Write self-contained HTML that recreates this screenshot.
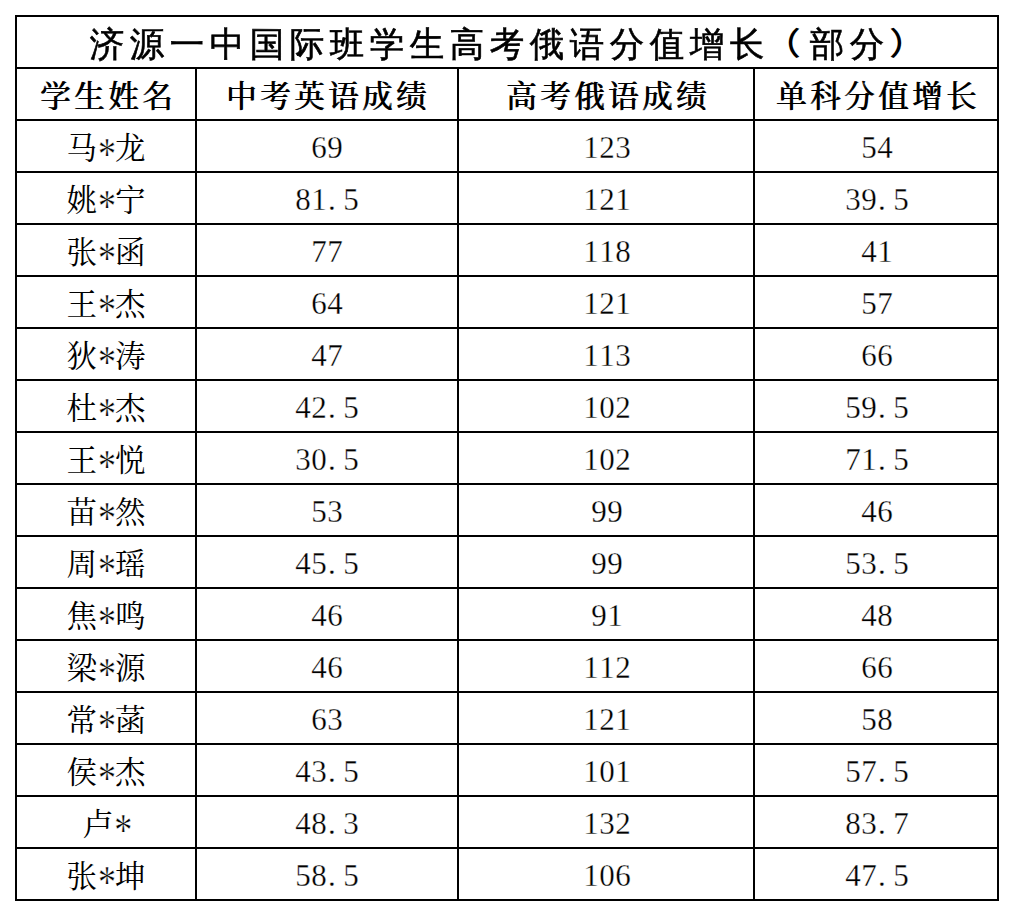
<!DOCTYPE html>
<html lang="zh-CN"><head><meta charset="utf-8"><title>济源一中国际班学生高考俄语分值增长（部分）</title>
<style>
html,body{margin:0;padding:0;background:#fff;}
body{width:1014px;height:916px;position:relative;overflow:hidden;}
.h{position:absolute;left:15px;width:984px;height:2px;background:#000;}
.v{position:absolute;top:67px;height:834px;width:2px;background:#000;}
.c{position:absolute;height:50px;display:flex;justify-content:center;align-items:flex-start;white-space:nowrap;color:#000;}
.c span{display:block;}
.d{font-family:"Liberation Serif","Noto Serif CJK SC",serif;font-size:31px;line-height:50px;}
.d i{font-style:normal;display:inline-block;width:16px;text-align:center;}
.d i.dot{text-align:left;padding-left:1px;box-sizing:border-box;}
.d{-webkit-text-stroke:0.3px #fff;}
.n{font-family:"Liberation Serif","Noto Serif CJK SC",serif;font-size:30.5px;line-height:50px;}
.n b{font-weight:400;display:inline-block;}
.n b.cj{width:32.5px;text-align:center;}
.n b.ast{-webkit-text-stroke:0.35px #fff;width:16px;text-align:center;font-family:"Liberation Serif",serif;font-size:36px;transform:translate(0px,7px) scale(1,1.3);}
.hd{font-family:"Liberation Serif","Noto Serif CJK SC",serif;font-size:30.5px;line-height:50px;font-weight:400;letter-spacing:3.5px;text-shadow:1px 0 0 #000;}
.hd span{margin-right:-3.5px;}
.t em.p{font-style:normal;display:inline-block;line-height:0;font-family:"Liberation Sans","Noto Sans CJK SC",sans-serif;font-weight:500;-webkit-text-stroke:0;position:relative;transform:translate(0px,0px) scale(1.1,0.92);}
.t span{position:relative;left:0px;margin-right:-5.5px;}
.t{font-family:"Liberation Sans","WenQuanYi Zen Hei",sans-serif;font-size:34.5px;line-height:50px;font-weight:400;letter-spacing:5.5px;-webkit-text-stroke:0.6px #000;}
</style></head><body>

<div class="h" style="top:15px"></div>
<div class="h" style="top:67px"></div>
<div class="h" style="top:119px"></div>
<div class="h" style="top:171px"></div>
<div class="h" style="top:223px"></div>
<div class="h" style="top:275px"></div>
<div class="h" style="top:327px"></div>
<div class="h" style="top:379px"></div>
<div class="h" style="top:431px"></div>
<div class="h" style="top:483px"></div>
<div class="h" style="top:535px"></div>
<div class="h" style="top:587px"></div>
<div class="h" style="top:639px"></div>
<div class="h" style="top:691px"></div>
<div class="h" style="top:743px"></div>
<div class="h" style="top:795px"></div>
<div class="h" style="top:847px"></div>
<div class="h" style="top:899px"></div>
<div class="v" style="left:15px;top:15px;height:886px"></div>
<div class="v" style="left:997px;top:15px;height:886px"></div>
<div class="v" style="left:195px"></div>
<div class="v" style="left:457px"></div>
<div class="v" style="left:753px"></div>
<div class="c t" style="left:17px;width:980px;top:19px"><span>济源一中国际班学生高考俄语分值增长<em class="p" style="left:-4.5px">（</em>部分<em class="p" style="left:1.5px">）</em></span></div>
<div class="c hd" style="left:17px;width:178px;top:72px"><span>学生姓名</span></div>
<div class="c hd" style="left:196px;width:260px;top:72px"><span>中考英语成绩</span></div>
<div class="c hd" style="left:459px;width:294px;top:72px"><span>高考俄语成绩</span></div>
<div class="c hd" style="left:755px;width:242px;top:72px"><span>单科分值增长</span></div>
<div class="c n" style="left:17px;width:178px;top:122px"><span><b class="cj">马</b><b class="ast">*</b><b class="cj">龙</b></span></div>
<div class="c d" style="left:197px;width:260px;top:123px"><span><i>6</i><i>9</i></span></div>
<div class="c d" style="left:460px;width:294px;top:123px"><span><i>1</i><i>2</i><i>3</i></span></div>
<div class="c d" style="left:756px;width:242px;top:123px"><span><i>5</i><i>4</i></span></div>
<div class="c n" style="left:17px;width:178px;top:174px"><span><b class="cj">姚</b><b class="ast">*</b><b class="cj">宁</b></span></div>
<div class="c d" style="left:197px;width:260px;top:175px"><span><i>8</i><i>1</i><i class="dot">.</i><i>5</i></span></div>
<div class="c d" style="left:460px;width:294px;top:175px"><span><i>1</i><i>2</i><i>1</i></span></div>
<div class="c d" style="left:756px;width:242px;top:175px"><span><i>3</i><i>9</i><i class="dot">.</i><i>5</i></span></div>
<div class="c n" style="left:17px;width:178px;top:226px"><span><b class="cj">张</b><b class="ast">*</b><b class="cj">函</b></span></div>
<div class="c d" style="left:197px;width:260px;top:227px"><span><i>7</i><i>7</i></span></div>
<div class="c d" style="left:460px;width:294px;top:227px"><span><i>1</i><i>1</i><i>8</i></span></div>
<div class="c d" style="left:756px;width:242px;top:227px"><span><i>4</i><i>1</i></span></div>
<div class="c n" style="left:17px;width:178px;top:278px"><span><b class="cj">王</b><b class="ast">*</b><b class="cj">杰</b></span></div>
<div class="c d" style="left:197px;width:260px;top:279px"><span><i>6</i><i>4</i></span></div>
<div class="c d" style="left:460px;width:294px;top:279px"><span><i>1</i><i>2</i><i>1</i></span></div>
<div class="c d" style="left:756px;width:242px;top:279px"><span><i>5</i><i>7</i></span></div>
<div class="c n" style="left:17px;width:178px;top:330px"><span><b class="cj">狄</b><b class="ast">*</b><b class="cj">涛</b></span></div>
<div class="c d" style="left:197px;width:260px;top:331px"><span><i>4</i><i>7</i></span></div>
<div class="c d" style="left:460px;width:294px;top:331px"><span><i>1</i><i>1</i><i>3</i></span></div>
<div class="c d" style="left:756px;width:242px;top:331px"><span><i>6</i><i>6</i></span></div>
<div class="c n" style="left:17px;width:178px;top:382px"><span><b class="cj">杜</b><b class="ast">*</b><b class="cj">杰</b></span></div>
<div class="c d" style="left:197px;width:260px;top:383px"><span><i>4</i><i>2</i><i class="dot">.</i><i>5</i></span></div>
<div class="c d" style="left:460px;width:294px;top:383px"><span><i>1</i><i>0</i><i>2</i></span></div>
<div class="c d" style="left:756px;width:242px;top:383px"><span><i>5</i><i>9</i><i class="dot">.</i><i>5</i></span></div>
<div class="c n" style="left:17px;width:178px;top:434px"><span><b class="cj">王</b><b class="ast">*</b><b class="cj">悦</b></span></div>
<div class="c d" style="left:197px;width:260px;top:435px"><span><i>3</i><i>0</i><i class="dot">.</i><i>5</i></span></div>
<div class="c d" style="left:460px;width:294px;top:435px"><span><i>1</i><i>0</i><i>2</i></span></div>
<div class="c d" style="left:756px;width:242px;top:435px"><span><i>7</i><i>1</i><i class="dot">.</i><i>5</i></span></div>
<div class="c n" style="left:17px;width:178px;top:486px"><span><b class="cj">苗</b><b class="ast">*</b><b class="cj">然</b></span></div>
<div class="c d" style="left:197px;width:260px;top:487px"><span><i>5</i><i>3</i></span></div>
<div class="c d" style="left:460px;width:294px;top:487px"><span><i>9</i><i>9</i></span></div>
<div class="c d" style="left:756px;width:242px;top:487px"><span><i>4</i><i>6</i></span></div>
<div class="c n" style="left:17px;width:178px;top:538px"><span><b class="cj">周</b><b class="ast">*</b><b class="cj">瑶</b></span></div>
<div class="c d" style="left:197px;width:260px;top:539px"><span><i>4</i><i>5</i><i class="dot">.</i><i>5</i></span></div>
<div class="c d" style="left:460px;width:294px;top:539px"><span><i>9</i><i>9</i></span></div>
<div class="c d" style="left:756px;width:242px;top:539px"><span><i>5</i><i>3</i><i class="dot">.</i><i>5</i></span></div>
<div class="c n" style="left:17px;width:178px;top:590px"><span><b class="cj">焦</b><b class="ast">*</b><b class="cj">鸣</b></span></div>
<div class="c d" style="left:197px;width:260px;top:591px"><span><i>4</i><i>6</i></span></div>
<div class="c d" style="left:460px;width:294px;top:591px"><span><i>9</i><i>1</i></span></div>
<div class="c d" style="left:756px;width:242px;top:591px"><span><i>4</i><i>8</i></span></div>
<div class="c n" style="left:17px;width:178px;top:642px"><span><b class="cj">梁</b><b class="ast">*</b><b class="cj">源</b></span></div>
<div class="c d" style="left:197px;width:260px;top:643px"><span><i>4</i><i>6</i></span></div>
<div class="c d" style="left:460px;width:294px;top:643px"><span><i>1</i><i>1</i><i>2</i></span></div>
<div class="c d" style="left:756px;width:242px;top:643px"><span><i>6</i><i>6</i></span></div>
<div class="c n" style="left:17px;width:178px;top:694px"><span><b class="cj">常</b><b class="ast">*</b><b class="cj">菡</b></span></div>
<div class="c d" style="left:197px;width:260px;top:695px"><span><i>6</i><i>3</i></span></div>
<div class="c d" style="left:460px;width:294px;top:695px"><span><i>1</i><i>2</i><i>1</i></span></div>
<div class="c d" style="left:756px;width:242px;top:695px"><span><i>5</i><i>8</i></span></div>
<div class="c n" style="left:17px;width:178px;top:746px"><span><b class="cj">侯</b><b class="ast">*</b><b class="cj">杰</b></span></div>
<div class="c d" style="left:197px;width:260px;top:747px"><span><i>4</i><i>3</i><i class="dot">.</i><i>5</i></span></div>
<div class="c d" style="left:460px;width:294px;top:747px"><span><i>1</i><i>0</i><i>1</i></span></div>
<div class="c d" style="left:756px;width:242px;top:747px"><span><i>5</i><i>7</i><i class="dot">.</i><i>5</i></span></div>
<div class="c n" style="left:17px;width:178px;top:798px"><span><b class="cj">卢</b><b class="ast">*</b></span></div>
<div class="c d" style="left:197px;width:260px;top:799px"><span><i>4</i><i>8</i><i class="dot">.</i><i>3</i></span></div>
<div class="c d" style="left:460px;width:294px;top:799px"><span><i>1</i><i>3</i><i>2</i></span></div>
<div class="c d" style="left:756px;width:242px;top:799px"><span><i>8</i><i>3</i><i class="dot">.</i><i>7</i></span></div>
<div class="c n" style="left:17px;width:178px;top:850px"><span><b class="cj">张</b><b class="ast">*</b><b class="cj">坤</b></span></div>
<div class="c d" style="left:197px;width:260px;top:851px"><span><i>5</i><i>8</i><i class="dot">.</i><i>5</i></span></div>
<div class="c d" style="left:460px;width:294px;top:851px"><span><i>1</i><i>0</i><i>6</i></span></div>
<div class="c d" style="left:756px;width:242px;top:851px"><span><i>4</i><i>7</i><i class="dot">.</i><i>5</i></span></div>
</body></html>
